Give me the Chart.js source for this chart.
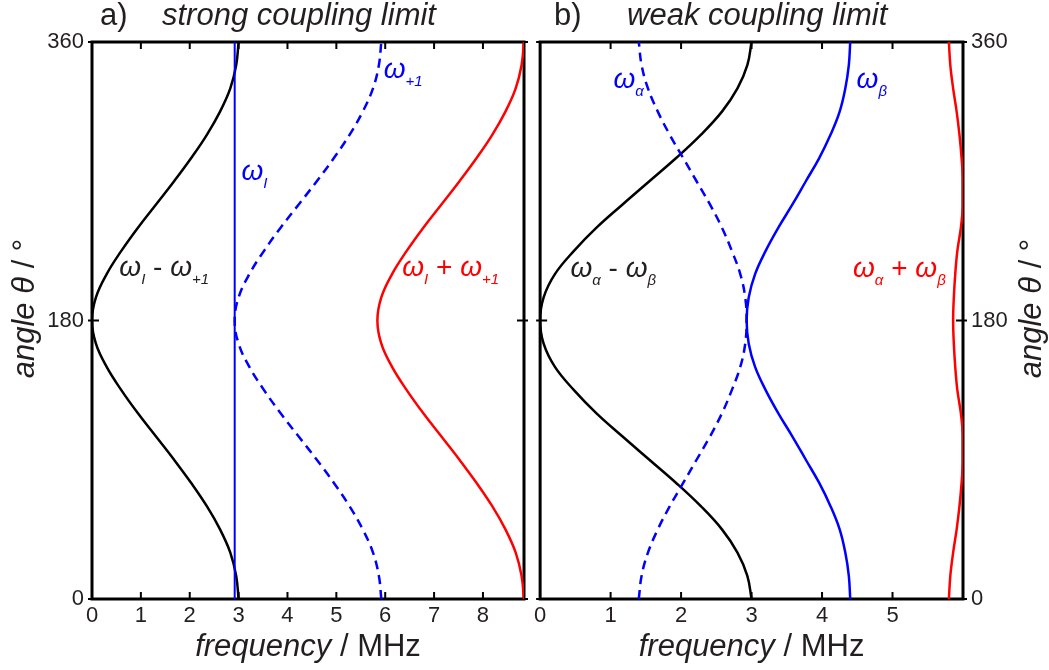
<!DOCTYPE html>
<html>
<head>
    <title>Strong and weak coupling limit</title>
    <meta charset="UTF-8">
    <script src="https://cdn.jsdelivr.net/npm/chart.js@4/dist/chart.umd.min.js"></script>
    <style>
        body { margin: 0; background: #fff; }
        .wrap { position: relative; width: 1049px; height: 670px; }
        #panelA { position: absolute; left: 0; top: 0; }
        #panelB { position: absolute; left: 530px; top: 0; }
    </style>
</head>
<body>
    <div class="wrap">
        <canvas id="panelA" width="530" height="670"></canvas>
        <canvas id="panelB" width="519" height="670"></canvas>
    </div>

    <script>
        // angle theta in degrees, shared by every curve
        const angles = [0, 15, 30, 45, 60, 75, 90, 105, 120, 135, 150, 165, 180,
                        195, 210, 225, 240, 255, 270, 285, 300, 315, 330, 345, 360];

        // a) strong coupling limit, frequencies in MHz
        const strongI = [2.92, 2.92];
        const strongIAngles = [0, 360];
        const strongPlus1 = [5.92, 5.87, 5.75, 5.54, 5.27, 4.95, 4.60, 4.23, 3.86, 3.52, 3.22, 3.00, 2.92,
                             3.00, 3.22, 3.52, 3.86, 4.23, 4.60, 4.95, 5.27, 5.54, 5.75, 5.87, 5.92];
        const strongDiff = [3.00, 2.95, 2.83, 2.62, 2.35, 2.03, 1.68, 1.31, 0.94, 0.60, 0.30, 0.08, 0.00,
                            0.08, 0.30, 0.60, 0.94, 1.31, 1.68, 2.03, 2.35, 2.62, 2.83, 2.95, 3.00];
        const strongSum = [8.84, 8.79, 8.67, 8.46, 8.19, 7.87, 7.52, 7.15, 6.78, 6.44, 6.14, 5.92, 5.84,
                           5.92, 6.14, 6.44, 6.78, 7.15, 7.52, 7.87, 8.19, 8.46, 8.67, 8.79, 8.84];

        // b) weak coupling limit, frequencies in MHz
        const weakAlpha = [1.40, 1.44, 1.53, 1.67, 1.84, 2.03, 2.22, 2.41, 2.58, 2.72, 2.84, 2.91, 2.93,
                           2.91, 2.84, 2.72, 2.58, 2.41, 2.22, 2.03, 1.84, 1.67, 1.53, 1.44, 1.40];
        const weakBeta = [4.40, 4.38, 4.33, 4.25, 4.12, 3.96, 3.77, 3.58, 3.38, 3.20, 3.05, 2.96, 2.93,
                          2.96, 3.05, 3.20, 3.38, 3.58, 3.77, 3.96, 4.12, 4.25, 4.33, 4.38, 4.40];
        const weakDiff = [3.00, 2.94, 2.80, 2.58, 2.28, 1.93, 1.55, 1.17, 0.80, 0.48, 0.21, 0.05, 0.00,
                          0.05, 0.21, 0.48, 0.80, 1.17, 1.55, 1.93, 2.28, 2.58, 2.80, 2.94, 3.00];
        const weakSum = [5.80, 5.82, 5.86, 5.91, 5.95, 5.98, 6.00, 6.00, 5.97, 5.92, 5.89, 5.87, 5.86,
                         5.87, 5.89, 5.92, 5.97, 6.00, 6.00, 5.98, 5.95, 5.91, 5.86, 5.82, 5.80];

        // tick values
        const xTicksA = [0, 1, 2, 3, 4, 5, 6, 7, 8];
        const xTicksB = [0, 1, 2, 3, 4, 5];
        const yTicks = [0, 180, 360];

        const FONT = "'Liberation Sans', Arial, Helvetica, sans-serif";
        const INK = '#231f20';
        const BLUE = '#0000ff';
        const RED = '#ff0000';

        function font(size, italic) {
            return (italic ? 'italic ' : '') + size + 'px ' + FONT;
        }
        // pieces of rich text
        const W = (t) => ({ text: t, font: font(28, true) });
        const S = (t) => ({ text: t, font: font(15, true), dy: 8 });
        const N = (t) => ({ text: t, font: font(28, false) });
        const T = (t, it) => ({ text: t, font: font(31, it) });

        function pts(xs, ys) {
            return xs.map((x, i) => ({ x: x, y: ys[i] }));
        }

        function textWidth(ctx, parts) {
            let w = 0;
            parts.forEach(p => { ctx.font = p.font; w += ctx.measureText(p.text).width; });
            return w;
        }

        function drawParts(ctx, x, y, parts, color) {
            ctx.save();
            ctx.fillStyle = color;
            ctx.textAlign = 'left';
            ctx.textBaseline = 'alphabetic';
            parts.forEach(p => {
                ctx.font = p.font;
                ctx.fillText(p.text, x, y + (p.dy || 0));
                x += ctx.measureText(p.text).width;
            });
            ctx.restore();
        }

        // frame, inward ticks, titles and curve labels
        function decorPlugin(cfg) {
            return {
                id: 'decor',
                beforeDatasetsDraw(chart) {
                    const ctx = chart.ctx;
                    const a = chart.chartArea;
                    const xs = chart.scales.x, ys = chart.scales.y;
                    ctx.save();
                    ctx.strokeStyle = '#000';
                    ctx.lineWidth = 2;
                    xs.ticks.forEach(t => {
                        const px = xs.getPixelForValue(t.value);
                        if (px <= a.left + 1 || px >= a.right - 1) return;
                        ctx.beginPath();
                        ctx.moveTo(px, a.bottom); ctx.lineTo(px, a.bottom - 7);
                        ctx.moveTo(px, a.top); ctx.lineTo(px, a.top + 7);
                        ctx.stroke();
                    });
                    ys.ticks.forEach(t => {
                        const py = ys.getPixelForValue(t.value);
                        ctx.beginPath();
                        ctx.moveTo(a.left - 4, py); ctx.lineTo(a.left + 7, py);
                        ctx.moveTo(a.right + 4, py); ctx.lineTo(a.right - 7, py);
                        ctx.stroke();
                    });
                    ctx.lineWidth = 3;
                    ctx.strokeRect(a.left, a.top, a.right - a.left, a.bottom - a.top);
                    ctx.restore();
                },
                afterDraw(chart) {
                    const ctx = chart.ctx;
                    const a = chart.chartArea;
                    const xs = chart.scales.x, ys = chart.scales.y;

                    // panel title
                    drawParts(ctx, a.left + cfg.tagX, 25, [T(cfg.tag, false)], INK);
                    drawParts(ctx, a.left + cfg.titleX, 25, [T(cfg.title, true)], INK);

                    // x axis title
                    const xt = [T('frequency', true), T(' / MHz', false)];
                    const xw = textWidth(ctx, xt);
                    drawParts(ctx, (a.left + a.right) / 2 - xw / 2, 656, xt, INK);

                    // y axis title, rotated
                    const yt = [T('angle θ', true), T(' / °', false)];
                    const yw = textWidth(ctx, yt);
                    ctx.save();
                    ctx.translate(cfg.yTitleX(a), (a.top + a.bottom) / 2 - 12);
                    ctx.rotate(-Math.PI / 2);
                    drawParts(ctx, -yw / 2, 0, yt, INK);
                    ctx.restore();

                    // curve labels at data positions
                    cfg.labels.forEach(l => {
                        drawParts(ctx, xs.getPixelForValue(l.x), ys.getPixelForValue(l.y), l.parts, l.color);
                    });
                }
            };
        }

        function lineSet(data, color, dashed, width) {
            return {
                data: data,
                showLine: true,
                borderColor: color,
                borderWidth: width || 2.5,
                borderDash: dashed ? [9, 6] : [],
                pointRadius: 0,
                tension: 0.4,
                fill: false
            };
        }

        function scalesFor(xMax, xTicks, yPos, yWidth) {
            const tickFont = { family: FONT, size: 22 };
            return {
                x: {
                    type: 'linear', min: 0, max: xMax, position: 'bottom',
                    afterBuildTicks: s => { s.ticks = xTicks.map(v => ({ value: v })); },
                    afterFit: s => { s.height = 71; },
                    ticks: { font: tickFont, color: INK, padding: 4, maxRotation: 0, autoSkip: false },
                    grid: { display: false, drawTicks: false },
                    border: { display: false }
                },
                y: {
                    type: 'linear', min: 0, max: 360, position: yPos,
                    afterBuildTicks: s => { s.ticks = yTicks.map(v => ({ value: v })); },
                    afterFit: s => { s.width = yWidth; },
                    ticks: { font: tickFont, color: INK, padding: 8, autoSkip: false },
                    grid: { display: false, drawTicks: false },
                    border: { display: false }
                }
            };
        }

        const baseOptions = {
            responsive: false,
            animation: false,
            plugins: { legend: { display: false }, tooltip: { enabled: false } }
        };

        // panel a)
        new Chart(document.getElementById('panelA'), {
            type: 'scatter',
            data: {
                datasets: [
                    lineSet(pts(strongI, strongIAngles), BLUE, false, 2),
                    lineSet(pts(strongPlus1, angles), BLUE, true),
                    lineSet(pts(strongDiff, angles), '#000', false),
                    lineSet(pts(strongSum, angles), RED, false)
                ]
            },
            options: Object.assign({}, baseOptions, {
                layout: { padding: { left: 0, top: 42, right: 6, bottom: 0 } },
                scales: scalesFor(8.84, xTicksA, 'left', 92)
            }),
            plugins: [decorPlugin({
                tag: 'a)', tagX: 8, title: 'strong coupling limit', titleX: 70,
                yTitleX: a => 34,
                labels: [
                    { x: 3.06, y: 271, color: BLUE, parts: [W('ω'), S('I')] },
                    { x: 5.97, y: 337, color: BLUE, parts: [W('ω'), S('+1')] },
                    { x: 0.56, y: 209, color: INK, parts: [W('ω'), S('I'), N(' - '), W('ω'), S('+1')] },
                    { x: 6.35, y: 209, color: RED, parts: [W('ω'), S('I'), N(' + '), W('ω'), S('+1')] }
                ]
            })]
        });

        // panel b)
        new Chart(document.getElementById('panelB'), {
            type: 'scatter',
            data: {
                datasets: [
                    lineSet(pts(weakAlpha, angles), BLUE, true),
                    lineSet(pts(weakBeta, angles), BLUE, false),
                    lineSet(pts(weakDiff, angles), '#000', false),
                    lineSet(pts(weakSum, angles), RED, false)
                ]
            },
            options: Object.assign({}, baseOptions, {
                layout: { padding: { left: 7, top: 42, right: 0, bottom: 0 } },
                scales: scalesFor(6, xTicksB, 'right', 86)
            }),
            plugins: [decorPlugin({
                tag: 'b)', tagX: 14, title: 'weak coupling limit', titleX: 87,
                yTitleX: a => a.right + 78,
                labels: [
                    { x: 1.04, y: 330, color: BLUE, parts: [W('ω'), S('α')] },
                    { x: 4.49, y: 330, color: BLUE, parts: [W('ω'), S('β')] },
                    { x: 0.43, y: 208, color: INK, parts: [W('ω'), S('α'), N(' - '), W('ω'), S('β')] },
                    { x: 4.44, y: 208, color: RED, parts: [W('ω'), S('α'), N(' + '), W('ω'), S('β')] }
                ]
            })]
        });
    </script>
</body>
</html>
